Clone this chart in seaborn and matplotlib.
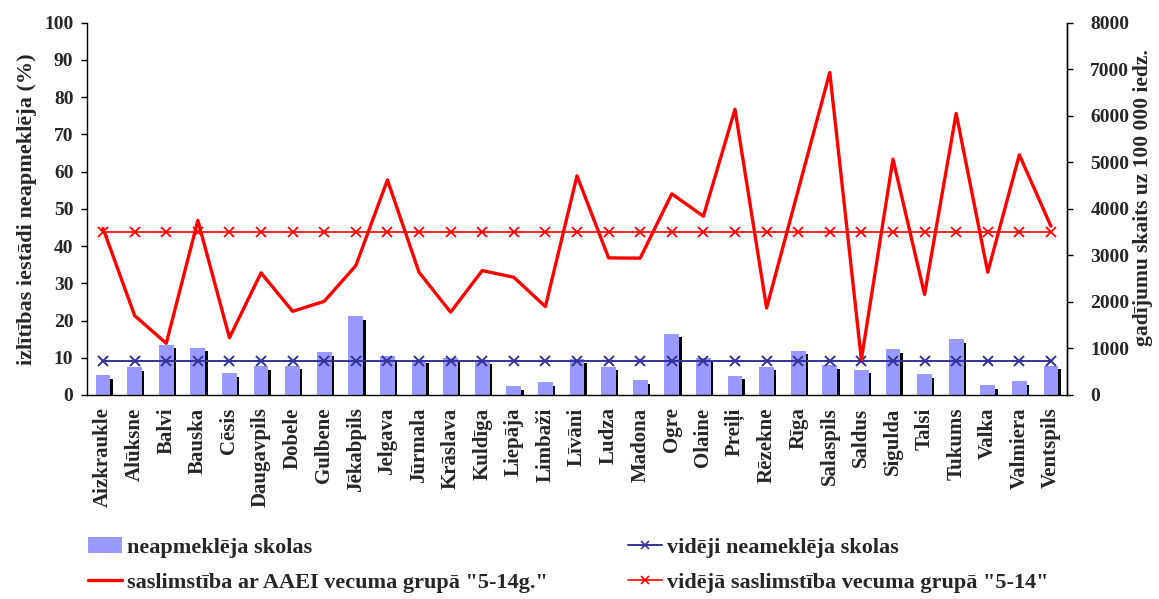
import numpy as np
import pandas as pd
import matplotlib
matplotlib.use('Agg')
import matplotlib.pyplot as plt
import seaborn as sns
from matplotlib import patheffects as pe
from matplotlib.lines import Line2D
from matplotlib.patches import Patch

# dati
rajoni = ['Aizkraukle', 'Alūksne', 'Balvi', 'Bauska', 'Cēsis', 'Daugavpils', 'Dobele',
          'Gulbene', 'Jēkabpils', 'Jelgava', 'Jūrmala', 'Krāslava', 'Kuldīga', 'Liepāja',
          'Limbaži', 'Līvāni', 'Ludza', 'Madona', 'Ogre', 'Olaine', 'Preiļi', 'Rēzekne',
          'Rīga', 'Salaspils', 'Saldus', 'Sigulda', 'Talsi', 'Tukums', 'Valka',
          'Valmiera', 'Ventspils']
neapmekleja = [5.4, 7.4, 13.5, 12.7, 5.9, 7.7, 7.9, 11.6, 21.2, 10.5, 9.5, 9.9, 9.4, 2.3,
               3.4, 9.7, 7.6, 3.9, 16.5, 9.8, 5.2, 7.6, 11.9, 8.1, 6.8, 12.3, 5.7, 15.1,
               2.7, 3.8, 7.9]
saslimstiba = [3580, 1705, 1110, 3750, 1230, 2624, 1798, 2013, 2780, 4620, 2637, 1780,
               2673, 2529, 1900, 4710, 2946, 2940, 4323, 3841, 6140, 1870, 4400, 6930,
               760, 5070, 2160, 6050, 2640, 5160, 3626]
videji_neapm = 9.2
videja_sasl = 3500

df = pd.DataFrame({'rajons': rajoni, 'neapm': neapmekleja, 'sasl': saslimstiba})
df['vid_neapm'] = videji_neapm
df['vid_sasl'] = videja_sasl

sns.set_style('white')
plt.rcParams['font.family'] = ['Liberation Serif', 'DejaVu Serif']
plt.rcParams['font.weight'] = 'bold'

fig = plt.figure(figsize=(11.59, 5.99), dpi=100)
ax = fig.add_axes([0.0753, 0.3406, 0.8451, 0.6215])

bar_c = '#9999FF'
zila = '#333399'
sarkana = '#FF0000'

sns.barplot(data=df, x='rajons', y='neapm', color=bar_c, saturation=1, width=0.47,
            linewidth=0, ax=ax, zorder=2)
# melna ēna stabiņiem
for p in ax.patches:
    p.set_path_effects([pe.SimplePatchShadow(offset=(1.7, -2.7), shadow_rgbFace='k', alpha=1),
                        pe.Normal()])

sns.lineplot(data=df, x='rajons', y='vid_neapm', sort=False, color=zila, lw=1.4,
             marker='x', markersize=7.5, markeredgewidth=1.4, markeredgecolor=zila,
             ax=ax, zorder=3)

ax2 = ax.twinx()
sns.lineplot(data=df, x='rajons', y='sasl', sort=False, color=sarkana, lw=2.4, ax=ax2,
             zorder=4)
sns.lineplot(data=df, x='rajons', y='vid_sasl', sort=False, color=sarkana, lw=1.2,
             marker='x', markersize=7, markeredgewidth=1.3, markeredgecolor=sarkana,
             ax=ax2, zorder=4)

ax.set_xlim(-0.5, len(rajoni) - 0.5)
ax.set_ylim(0, 100)
ax.set_yticks(range(0, 101, 10))
ax2.set_ylim(0, 8000)
ax2.set_yticks(range(0, 8001, 1000))

ax.set_xticks(range(len(rajoni)))
ax.set_xticklabels(rajoni, rotation=90, fontsize=15, fontweight='bold')
ax.set_xticks(np.arange(-0.5, len(rajoni), 1), minor=True)
ax.tick_params(axis='x', which='major', length=0, pad=9)
ax.tick_params(axis='x', which='minor', length=4, width=1, direction='out', color='k')
ax.tick_params(axis='y', length=4, width=1, direction='out', color='k', labelsize=14, pad=6)
ax2.tick_params(axis='y', length=4, width=1, direction='out', color='k', labelsize=14, pad=13)
for lab in ax.get_yticklabels() + ax2.get_yticklabels():
    lab.set_fontweight('bold')

ax.set_xlabel('')
ax.set_ylabel('izlītības iestādi neapmeklēja (%)', fontsize=16, fontweight='bold', labelpad=5)
ax2.set_ylabel('gadījumu skaits uz 100 000 iedz.', fontsize=15.5, fontweight='bold')
ax2.yaxis.set_label_coords(1.068, 0.53)

for a in (ax, ax2):
    a.spines['top'].set_visible(False)
    for s in ('left', 'bottom', 'right'):
        a.spines[s].set_color('k')
        a.spines[s].set_linewidth(1)
ax2.spines['left'].set_visible(False)
ax2.spines['bottom'].set_visible(False)

handles = [
    Patch(facecolor=bar_c, edgecolor='none'),
    Line2D([], [], color=sarkana, lw=2.4),
    Line2D([], [], color=zila, lw=1.4, marker='x', markersize=6, markeredgewidth=1.2),
    Line2D([], [], color=sarkana, lw=1.2, marker='x', markersize=6, markeredgewidth=1.2),
]
labels = ['neapmeklēja skolas', 'saslimstība ar AAEI vecuma grupā "5-14g."',
          'vidēji neameklēja skolas', 'vidējā saslimstība vecuma grupā "5-14"']
fig.legend(handles, labels, loc='center left', bbox_to_anchor=(0.0759, 0.0568),
           bbox_transform=fig.transFigure, ncol=2, frameon=False,
           prop={'size': 16, 'weight': 'bold'}, handlelength=1.55, handletextpad=0.2,
           columnspacing=3.6, labelspacing=0.65, borderaxespad=0, borderpad=0)

fig.savefig('out.png', dpi=100)
